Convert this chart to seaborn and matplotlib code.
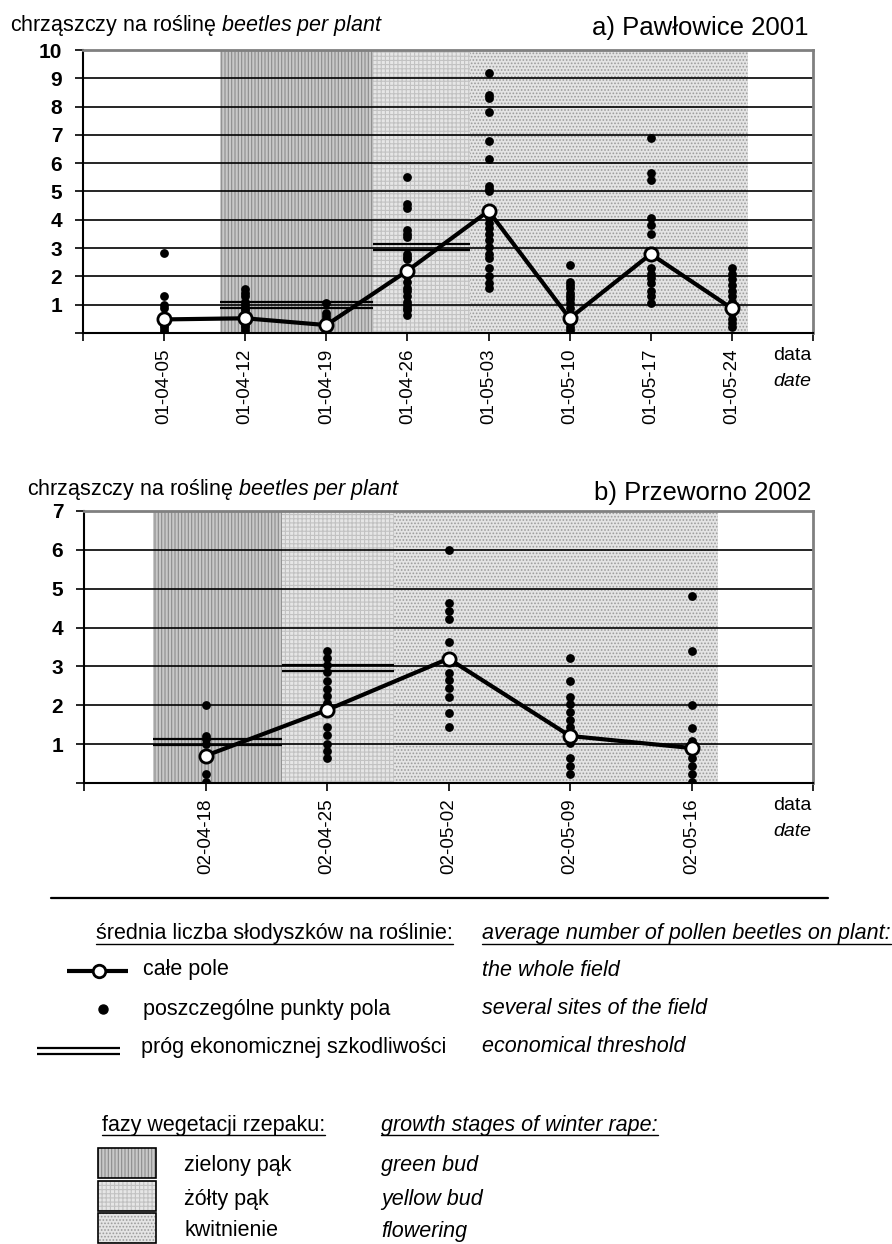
import numpy as np
import pandas as pd
import matplotlib
matplotlib.use('Agg')
import matplotlib.pyplot as plt
from matplotlib.patches import Rectangle
from matplotlib.transforms import offset_copy
import seaborn as sns

# --- dane / data -------------------------------------------------------------
dates_a = ['01-04-05', '01-04-12', '01-04-19', '01-04-26',
           '01-05-03', '01-05-10', '01-05-17', '01-05-24']
means_a = [0.48, 0.52, 0.28, 2.2, 4.31, 0.52, 2.79, 0.87]
sites_a = [
    [2.84, 1.3, 1.0, 0.9, 0.5, 0.4, 0.3, 0.2, 0.1, 0.0, 0.0],
    [1.55, 1.4, 1.3, 1.1, 1.0, 0.9, 0.8, 0.7, 0.6, 0.5, 0.4, 0.3, 0.2, 0.1, 0.0],
    [1.05, 0.7, 0.6, 0.5, 0.4, 0.3, 0.2, 0.1, 0.0],
    [5.5, 4.55, 4.4, 3.65, 3.5, 3.4, 2.8, 2.7, 2.6, 2.0, 1.8, 1.6, 1.5,
     1.3, 1.1, 1.0, 0.9, 0.8, 0.65],
    [9.2, 8.4, 8.3, 7.8, 6.8, 6.15, 5.2, 5.1, 5.0, 4.1, 3.9, 3.7, 3.5,
     3.3, 3.05, 2.8, 2.65, 2.3, 2.0, 1.75, 1.6],
    [2.4, 1.8, 1.7, 1.6, 1.4, 1.3, 1.2, 1.05, 0.9, 0.7, 0.35, 0.2, 0.1, 0.0],
    [6.9, 5.65, 5.4, 4.05, 3.8, 3.5, 2.3, 2.1, 1.95, 1.75, 1.5, 1.3, 1.05],
    [2.3, 2.1, 1.9, 1.7, 1.5, 1.3, 1.1, 0.7, 0.5, 0.35, 0.2],
]
# granice faz (w tygodniach od osi) : zielony pąk, żółty pąk, kwitnienie
phase_lo_a = [1.69, 3.57, 4.77]
phase_hi_a = [3.57, 4.77, 8.2]
thresholds_a = [1.0, 3.05]

dates_b = ['02-04-18', '02-04-25', '02-05-02', '02-05-09', '02-05-16']
means_b = [0.7, 1.88, 3.2, 1.21, 0.9]
sites_b = [
    [2.0, 1.22, 1.12, 1.0, 0.24, 0.02],
    [3.4, 3.22, 3.03, 2.85, 2.63, 2.43, 2.24, 2.06, 1.43, 1.24, 1.0, 0.83, 0.64],
    [6.0, 4.62, 4.43, 4.23, 3.62, 2.84, 2.65, 2.44, 2.22, 1.81, 1.43],
    [3.22, 2.62, 2.22, 2.03, 1.82, 1.62, 1.43, 1.03, 0.64, 0.43, 0.24],
    [4.8, 3.4, 2.0, 1.41, 1.07, 0.64, 0.43, 0.24, 0.02],
]
phase_lo_b = [0.57, 1.63, 2.55]
phase_hi_b = [1.63, 2.55, 5.22]
thresholds_b = [1.05, 2.96]

# --- styl ---------------------------------------------------------------------
sns.set_style('white')
plt.rcParams['font.family'] = ['Liberation Sans', 'DejaVu Sans']
plt.rcParams['text.color'] = 'black'
plt.rcParams['mathtext.fontset'] = 'custom'
plt.rcParams['mathtext.rm'] = 'Liberation Sans'
plt.rcParams['mathtext.it'] = 'Liberation Sans:italic'
plt.rcParams['hatch.linewidth'] = 0.8

fills = [('#c8c8c8', '#8c8c8c', '|||||'),
         ('#e6e6e6', '#c2c2c2', '++++'),
         ('#e4e4e4', '#9c9c9c', '.....')]

W, H = 892, 1244
fig = plt.figure(figsize=(W / 100, H / 100), dpi=100)

# warstwa na teksty i legendę w pikselach
ax0 = fig.add_axes([0, 0, 1, 1])
ax0.set_xlim(0, W)
ax0.set_ylim(H, 0)
ax0.axis('off')


def double_line(ax, x, y, trans_base):
    # dwie cienkie linie rozsunięte o ~6 px
    for dy in (-2.1, 2.1):
        tr = offset_copy(trans_base, fig=fig, y=dy, units='points')
        ax.plot(x, y, color='black', lw=1.6, transform=tr, zorder=2,
                solid_capstyle='butt')


def draw_panel(ax, dates, means, sites, phase_lo, phase_hi, thresholds, ymax):
    n = len(dates)
    pos = np.arange(1, n + 1)
    for lo, hi, (fc, hc, h) in zip(phase_lo, phase_hi, fills):
        ax.axvspan(lo, hi, facecolor=fc, edgecolor=hc, hatch=h, linewidth=0, zorder=0.2)
    for y in range(1, ymax):
        ax.axhline(y, color='black', lw=1.2, zorder=0.5)
    # próg: nad zielonym i żółtym pąkiem
    for val, lo, hi in zip(thresholds, phase_lo[:2], phase_hi[:2]):
        double_line(ax, [lo, hi], [val, val], ax.transData)

    df = pd.DataFrame({'pos': np.repeat(pos, [len(s) for s in sites]),
                       'val': np.concatenate(sites)})
    sns.scatterplot(data=df, x='pos', y='val', color='black', s=40,
                    linewidth=0, ax=ax, zorder=3, legend=False)
    sns.lineplot(x=pos, y=means, color='black', lw=3, marker='o', markersize=9.5,
                 markerfacecolor='white', markeredgecolor='black',
                 markeredgewidth=2, ax=ax, zorder=4, sort=False)

    ax.set_xlim(0, n + 1)
    ax.set_ylim(0, ymax)
    ax.set_xticks(range(0, n + 2))
    ax.set_xticklabels([''] + dates + [''], rotation=90, fontsize=13.5)
    ax.set_yticks(range(0, ymax + 1))
    ax.set_yticklabels([''] + [str(i) for i in range(1, ymax + 1)],
                       fontsize=15, fontweight='bold')
    ax.tick_params(axis='both', bottom=True, left=True, length=6, width=1.2,
                   color='black', labelcolor='black')
    ax.tick_params(axis='x', pad=5)
    ax.tick_params(axis='y', pad=9)
    ax.set_xlabel('')
    ax.set_ylabel('')
    for s in ['left', 'bottom']:
        ax.spines[s].set_color('black')
        ax.spines[s].set_linewidth(1.5)
    for s in ['top', 'right']:
        ax.spines[s].set_color('#808080')
        ax.spines[s].set_linewidth(2)


def px_axes(left, top, right, bottom):
    return fig.add_axes([left / W, 1 - bottom / H, (right - left) / W, (bottom - top) / H])


ax_a = px_axes(83, 50, 813, 333)
draw_panel(ax_a, dates_a, means_a, sites_a, phase_lo_a, phase_hi_a, thresholds_a, 10)

ax_b = px_axes(84, 511, 813, 783)
draw_panel(ax_b, dates_b, means_b, sites_b, phase_lo_b, phase_hi_b, thresholds_b, 7)

ylab = r'chrząszczy na roślinę $\mathit{beetles\ per\ plant}$'
ax0.text(10, 25, ylab, fontsize=15.5, va='center', ha='left')
ax0.text(27, 489, ylab, fontsize=15.5, va='center', ha='left')
ax0.text(808, 28, 'a) Pawłowice 2001', fontsize=18.5, va='center', ha='right')
ax0.text(811, 493, 'b) Przeworno 2002', fontsize=18.5, va='center', ha='right')
for yy in [355, 805]:
    ax0.text(792, yy, 'data', fontsize=14, ha='center', va='center')
    ax0.text(792, yy + 26, 'date', fontsize=14, ha='center', va='center', style='italic')

# --- legenda -----------------------------------------------------------------
FS = 15.5
EN_X = 482
ax0.plot([51, 828], [898, 898], color='black', lw=1.6)

underlined = [
    ax0.text(96, 934, 'średnia liczba słodyszków na roślinie:', fontsize=FS, va='center'),
    ax0.text(EN_X, 934, 'average number of pollen beetles on plant:', fontsize=FS,
             va='center', style='italic'),
    ax0.text(102, 1125, 'fazy wegetacji rzepaku:', fontsize=FS, va='center'),
    ax0.text(381, 1125, 'growth stages of winter rape:', fontsize=FS, va='center',
             style='italic'),
]

ax0.plot([67, 128], [971, 971], color='black', lw=3, solid_capstyle='butt')
ax0.plot([99], [971], marker='o', ms=9, mfc='white', mec='black', mew=2)
ax0.plot([103], [1009], marker='o', ms=6.5, color='black')
double_line(ax0, [37, 120], [1051, 1051], ax0.transData)

leg_pl = ['całe pole', 'poszczególne punkty pola', 'próg ekonomicznej szkodliwości']
leg_en = ['the whole field', 'several sites of the field', 'economical threshold']
for yy, xx, pl, en in zip([970, 1009, 1047], [143, 143, 141], leg_pl, leg_en):
    ax0.text(xx, yy, pl, fontsize=FS, va='center')
    ax0.text(EN_X, yy, en, fontsize=FS, va='center', style='italic')

stage_pl = ['zielony pąk', 'żółty pąk', 'kwitnienie']
stage_en = ['green bud', 'yellow bud', 'flowering']
for top, pl, en, (fc, hc, h) in zip([1148, 1181, 1213], stage_pl, stage_en, fills):
    ax0.add_patch(Rectangle((98, top), 58, 30, facecolor=fc, edgecolor=hc,
                            hatch=h, linewidth=0))
    ax0.add_patch(Rectangle((98, top), 58, 30, fill=False, edgecolor='black', lw=1.2))
    ax0.text(184, top + 18, pl, fontsize=FS, va='center')
    ax0.text(381, top + 18, en, fontsize=FS, va='center', style='italic')

fig.canvas.draw()
inv = ax0.transData.inverted()
for t in underlined:
    bb = t.get_window_extent()
    (x0, y0), (x1, _) = inv.transform([[bb.x0, bb.y0], [bb.x1, bb.y0]])
    ax0.plot([x0, x1], [y0 - 1, y0 - 1], color='black', lw=1)

fig.savefig('out.png', dpi=100)
